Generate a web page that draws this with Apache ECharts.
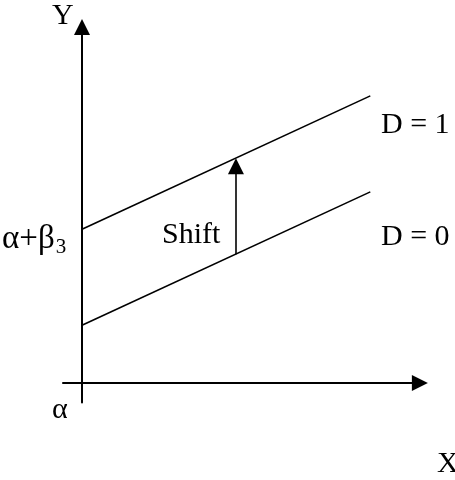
<!DOCTYPE html>
<html>
<head>
<meta charset="utf-8">
<script src="https://cdn.jsdelivr.net/npm/echarts@6/dist/echarts.min.js"></script>
<style>
html,body{margin:0;padding:0;background:#fff;}
#chart{width:455px;height:480px;}
</style>
</head>
<body>
<div id="chart"></div>
<script>
// ---- data (in abstract diagram units) ----
var lineD0X = [0, 10];
var lineD0Y = [2.0, 6.63];
var lineD1X = [0, 10];
var lineD1Y = [5.33, 9.96];
var shiftX = [5.34, 5.34];
var shiftY = [4.47, 7.52];
var axisXRange = [-0.66, 11.72];
var axisYRange = [-0.68, 12.35];
var labelNames = ['Y', 'X', 'α', 'D = 1', 'D = 0', 'Shift'];

var chart = echarts.init(document.getElementById('chart'));
var unit = 28.83;
var originPx = [82, 383];
var gridLeft = originPx[0] + axisXRange[0] * unit;
var gridWidth = (axisXRange[1] - axisXRange[0]) * unit;
var gridTop = originPx[1] - axisYRange[1] * unit;
var gridHeight = (axisYRange[1] - axisYRange[0]) * unit;

function pairs(xs, ys) { return xs.map(function (x, i) { return [x, ys[i]]; }); }

var FONT = '"Liberation Serif", "Times New Roman", serif';
function txt(text, x, y, size) {
  return { type: 'text', left: x, top: y, style: { text: text, font: size + 'px ' + FONT, fill: '#000' } };
}

var axisCommon = {
  type: 'value',
  axisLine: { show: true, onZero: true, symbol: ['none', 'triangle'], symbolSize: [16, 16], lineStyle: { color: '#000', width: 2 } },
  axisTick: { show: false },
  axisLabel: { show: false },
  splitLine: { show: false }
};

chart.setOption({
  animation: false,
  backgroundColor: '#fff',
  grid: { left: gridLeft, top: gridTop, width: gridWidth, height: gridHeight },
  xAxis: Object.assign({}, axisCommon, { min: axisXRange[0], max: axisXRange[1] }),
  yAxis: Object.assign({}, axisCommon, { min: axisYRange[0], max: axisYRange[1] }),
  series: [
    { type: 'line', data: pairs(lineD0X, lineD0Y), symbol: 'none', lineStyle: { color: '#000', width: 1.6 } },
    { type: 'line', data: pairs(lineD1X, lineD1Y), symbol: 'none', lineStyle: { color: '#000', width: 1.6 } },
    { type: 'lines', coordinateSystem: 'cartesian2d', symbol: ['none', 'triangle'], symbolSize: [16, 16],
      lineStyle: { color: '#000', width: 1.6, opacity: 1 }, itemStyle: { color: '#000' },
      data: [{ coords: pairs(shiftX, shiftY) }] }
  ],
  graphic: [
    txt(labelNames[0], 52, 1, 30),
    txt(labelNames[1], 437, 449, 30),
    txt(labelNames[2], 52, 395, 30),
    txt(labelNames[3], 381, 110, 30),
    txt(labelNames[4], 381, 222, 30),
    txt(labelNames[5], 162, 220, 30),
    { type: 'text', left: 2, top: 223, style: {
        text: '{a|α+β}{s|3}',
        rich: {
          a: { font: '33px ' + FONT, fill: '#000' },
          s: { font: '21px ' + FONT, fill: '#000', padding: [16, 0, 0, 1] }
        }
    } }
  ]
});
</script>
</body>
</html>
